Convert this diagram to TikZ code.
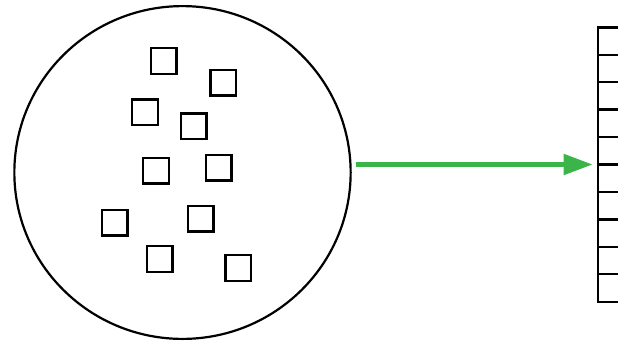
\documentclass[tikz,border=0pt]{standalone}
\usetikzlibrary{arrows.meta,shapes.geometric}
\definecolor{arrgreen}{RGB}{59,180,74}
\begin{document}
\begin{tikzpicture}[x=1pt,y=-1pt,
  sq/.style={draw=black,line width=2.4pt,minimum size=25.6pt,inner sep=0pt,outer sep=0pt},
  cell/.style={draw=black,line width=2.4pt,minimum width=40pt,minimum height=27.44pt,inner sep=0pt,outer sep=0pt},
  bigcirc/.style={draw=black,line width=2.2pt,ellipse,minimum width=336.3pt,minimum height=332.8pt,inner sep=0pt,outer sep=0pt},
  flow/.style={draw=arrgreen,line width=5pt,-{Triangle[length=29pt,width=20pt]}}]
\clip (0,0) rectangle (618,341);
\useasboundingbox (0,0) rectangle (618,341);
\node[bigcirc] (circ) at (182.5,172.5) {};
\node[sq] (s1) at (163.7,61) {};
\node[sq] (s2) at (223.2,82.5) {};
\node[sq] (s3) at (145,112.3) {};
\node[sq] (s4) at (193.5,126.3) {};
\node[sq] (s5) at (156,170.5) {};
\node[sq] (s6) at (218.7,167.8) {};
\node[sq] (s7) at (114.8,222.7) {};
\node[sq] (s8) at (200.8,218.8) {};
\node[sq] (s9) at (159.8,259) {};
\node[sq] (s10) at (238.2,268) {};
\foreach \i in {1,...,10} {
  \node[cell] (c\i) at (617.7,{27.3+13.72+27.44*(\i-1)}) {};
}
\draw[flow, shorten <=5pt, shorten >=5pt] (circ.east |- c5.south west) -- (c5.south west);
\end{tikzpicture}
\end{document}
